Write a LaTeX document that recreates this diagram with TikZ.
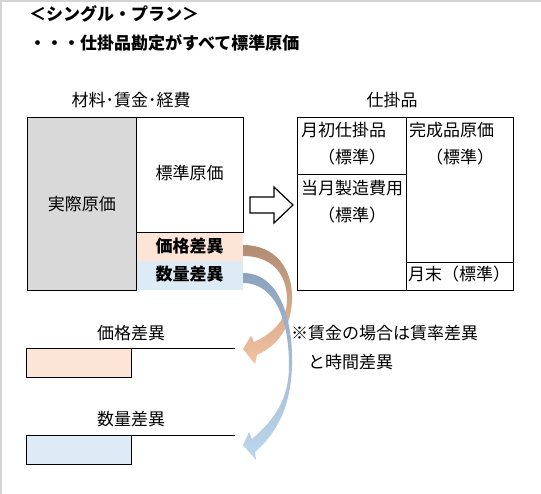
\documentclass[tikz,border=0pt]{standalone}
\usepackage{fontspec}
\setmainfont{Noto Sans CJK JP}
\definecolor{grayfill}{HTML}{D9D9D9}
\definecolor{peach}{HTML}{FCE4D6}
\definecolor{lblue}{HTML}{DDEBF7}
\definecolor{brownA}{HTML}{B08C73}
\definecolor{peachB}{HTML}{F5C3A0}
\definecolor{blueA}{HTML}{8CA3BD}
\definecolor{blueB}{HTML}{BDD7EE}
\definecolor{edgegray}{HTML}{D4D4D4}
\begin{document}
\begin{tikzpicture}[x=1pt,y=-1pt,
  box/.style={draw=black,line width=0.9pt},
  lbl/.style={font=\fontsize{17}{20}\selectfont, inner sep=0pt},
  blbl/.style={font=\fontsize{17}{20}\selectfont\bfseries, inner sep=0pt},
]
\useasboundingbox (0,0) rectangle (541,494);
\fill[white] (0,0) rectangle (541,494);
\draw[line width=1.6pt, edgegray] (0.8,494) -- (0.8,0.8) -- (541,0.8);

% titles
\node[blbl, anchor=west] (title1) at (29,14) {＜シングル・プラン＞};
\node[blbl, anchor=west] (title2) at (29,43) {・・・仕掛品勘定がすべて標準原価};

\node[lbl] (hdrL) at (131,100) {材料･賃金･経費};
\node[lbl] (hdrR) at (392,100) {仕掛品};

% left account
\node[blbl, fill=peach, minimum width=107pt, minimum height=29pt, anchor=north west] (pband) at (136,232) {};
\node[blbl] (ptext) at (189.5,246) {価格差異};
\node[blbl, fill=lblue, minimum width=107pt, minimum height=29pt, anchor=north west] (qband) at (136,261) {};
\node[blbl] (qtext) at (189.5,274) {数量差異};
\node[box, lbl, fill=grayfill, minimum width=109pt, minimum height=173pt, anchor=north west] (act) at (27,117) {実際原価};
\node[box, minimum width=107pt, minimum height=115pt, anchor=north west] (std) at (136,117) {};
\node[lbl] (stdtext) at (189.5,173) {標準原価};

% outline arrow
\draw[line width=1.2pt, fill=white] (250,197) -- (274,197) -- (274,187) -- (293,205) -- (274,223) -- (274,213) -- (250,213) -- cycle;

% right account
\node[box, minimum width=216pt, minimum height=173pt, anchor=north west] (wip) at (297,117) {};
\draw[box] (406,117) -- (406,290);
\draw[box] (297,174) -- (406,174);
\draw[box] (406,262) -- (513,262);
\node[lbl, anchor=west] (w1) at (301,130) {月初仕掛品};
\node[lbl, anchor=west] (w2) at (301,157) {　（標準）};
\node[lbl, anchor=west] (w3) at (301,188) {当月製造費用};
\node[lbl, anchor=west] (w4) at (301,215) {　（標準）};
\node[lbl, anchor=west] (w5) at (409,130) {完成品原価};
\node[lbl, anchor=west] (w6) at (409,157) {　（標準）};
\node[lbl, anchor=west] (w7) at (408,274) {月末（標準）};

% variance accounts
\node[lbl] (plabel) at (131,333) {価格差異};
\node[box, fill=peach, minimum width=105pt, minimum height=29pt, anchor=north west] (pbox) at (26,348) {};
\coordinate (pend) at (235,348);
\draw[box] (pbox.north west) -- (pend);
\node[lbl] (qlabel) at (131,419) {数量差異};
\node[box, fill=lblue, minimum width=105pt, minimum height=29pt, anchor=north west] (qbox) at (26,435) {};
\coordinate (qend) at (235,435);
\draw[box] (qbox.north west) -- (qend);

% note
\node[lbl, anchor=west] (note1) at (291,333) {※賃金の場合は賃率差異};
\node[lbl, anchor=west] (note2) at (291,362) {　と時間差異};

% curved arrows
\shade[top color=brownA, bottom color=peachB]
  (243,245) .. controls (275,245) and (293,268) .. (292,300)
  .. controls (291,328) and (278,345) .. (257,355)
  -- (255,364) -- (243,349) -- (251,336) -- (254,342)
  .. controls (272,334) and (287,320) .. (287,300)
  .. controls (287,272) and (270,256) .. (243,256) -- cycle;
\shade[top color=blueA, bottom color=blueB]
  (243,273) .. controls (280,273) and (293,320) .. (292,365)
  .. controls (291,405) and (278,432) .. (255,452)
  -- (256,460) -- (243,445) -- (249,432) -- (252,439)
  .. controls (274,420) and (289,400) .. (289,365)
  .. controls (289,322) and (276,283) .. (243,283) -- cycle;
\end{tikzpicture}
\end{document}
